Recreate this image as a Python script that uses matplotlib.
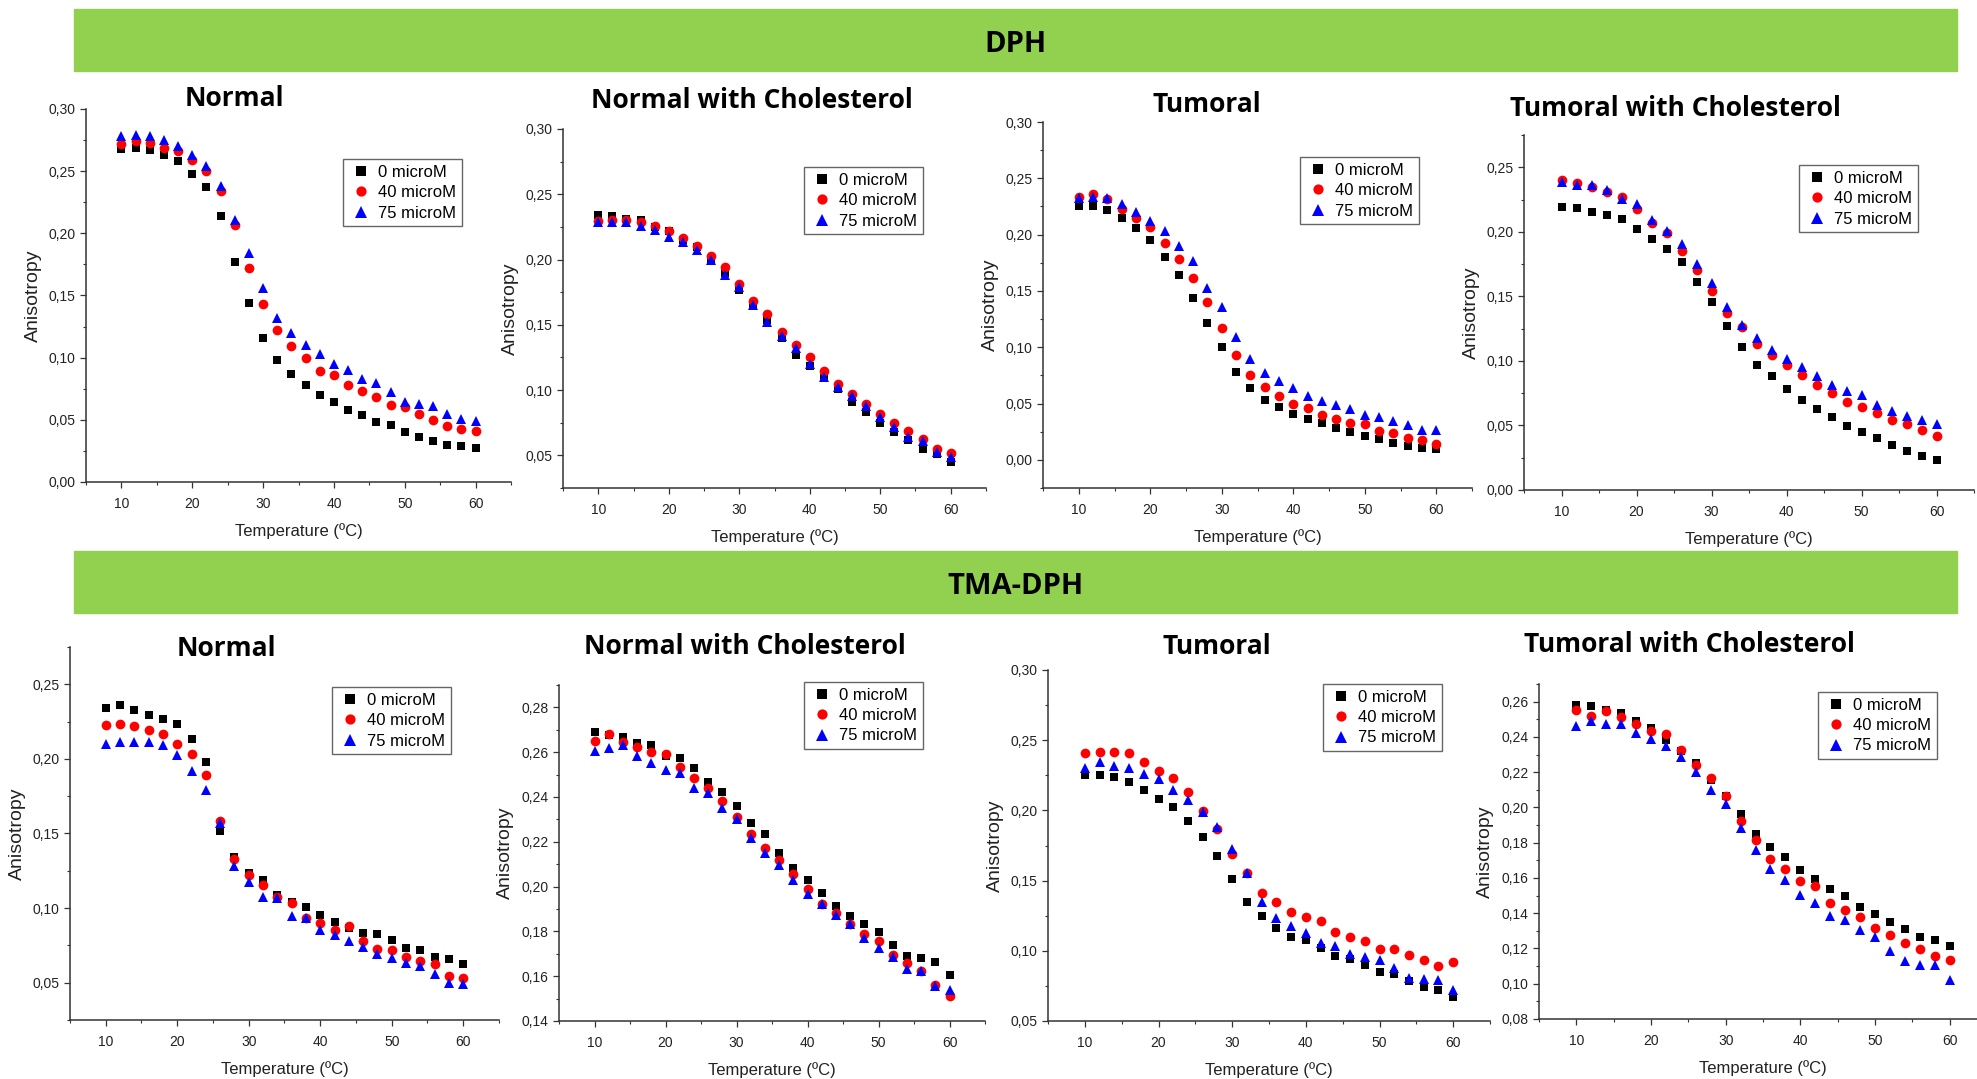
import matplotlib
matplotlib.use("Agg")
import matplotlib.pyplot as plt
from matplotlib.patches import Rectangle
from matplotlib.ticker import MultipleLocator, FuncFormatter

# Steady-state anisotropy vs temperature, DPH and TMA-DPH probes,
# three drug concentrations per membrane model.
TEMPS = [10, 12, 14, 16, 18, 20, 22, 24, 26, 28, 30, 32, 34,
         36, 38, 40, 42, 44, 46, 48, 50, 52, 54, 56, 58, 60]
SERIES_LABELS = ["0 microM", "40 microM", "75 microM"]

# --- DPH ---
dph_normal_0 = [0.268, 0.269, 0.267, 0.263, 0.258, 0.248, 0.237, 0.214, 0.177,
                0.144, 0.116, 0.098, 0.087, 0.078, 0.070, 0.064, 0.058, 0.054,
                0.048, 0.046, 0.040, 0.036, 0.033, 0.030, 0.029, 0.027]
dph_normal_40 = [0.272, 0.274, 0.273, 0.269, 0.266, 0.259, 0.250, 0.234, 0.207,
                 0.172, 0.143, 0.122, 0.109, 0.100, 0.089, 0.086, 0.078, 0.073,
                 0.068, 0.062, 0.060, 0.055, 0.050, 0.045, 0.043, 0.041]
dph_normal_75 = [0.278, 0.279, 0.278, 0.275, 0.270, 0.263, 0.254, 0.238, 0.211,
                 0.184, 0.156, 0.132, 0.120, 0.110, 0.103, 0.095, 0.090, 0.083,
                 0.080, 0.072, 0.064, 0.063, 0.061, 0.055, 0.051, 0.049]

dph_normchol_0 = [0.234, 0.233, 0.231, 0.230, 0.225, 0.2215, 0.215, 0.2095, 0.199,
                  0.190, 0.177, 0.1645, 0.154, 0.140, 0.127, 0.1185, 0.109, 0.101,
                  0.091, 0.083, 0.0745, 0.068, 0.062, 0.0546, 0.051, 0.0446]
dph_normchol_40 = [0.2297, 0.2305, 0.2305, 0.2284, 0.226, 0.222, 0.2167, 0.210, 0.2024,
                   0.194, 0.1814, 0.1683, 0.158, 0.1443, 0.1346, 0.125, 0.1147, 0.1048,
                   0.0968, 0.0894, 0.0817, 0.0745, 0.0689, 0.0628, 0.0546, 0.0515]
dph_normchol_75 = [0.229, 0.2284, 0.2284, 0.226, 0.2228, 0.2172, 0.2133, 0.207, 0.1998,
                   0.1883, 0.1786, 0.1653, 0.152, 0.1418, 0.1326, 0.1198, 0.1098, 0.1021,
                   0.0955, 0.0878, 0.0791, 0.0715, 0.0638, 0.061, 0.0528, 0.049]

dph_tumor_0 = [0.2256, 0.2256, 0.222, 0.2147, 0.206, 0.195, 0.180, 0.1638, 0.1433,
               0.1211, 0.0998, 0.0782, 0.0634, 0.0527, 0.0468, 0.0406, 0.0361, 0.0323,
               0.0284, 0.0243, 0.0216, 0.0181, 0.0148, 0.0127, 0.0104, 0.0092]
dph_tumor_40 = [0.2333, 0.2357, 0.2313, 0.2224, 0.215, 0.2064, 0.1928, 0.1786, 0.1617,
                0.1404, 0.1170, 0.0933, 0.0752, 0.0646, 0.0566, 0.0500, 0.0462, 0.0400,
                0.0364, 0.0329, 0.0314, 0.0258, 0.0234, 0.0198, 0.0175, 0.0139]
dph_tumor_75 = [0.2327, 0.2336, 0.2322, 0.2268, 0.2197, 0.212, 0.2028, 0.1898, 0.1768,
                0.1528, 0.1353, 0.1087, 0.0894, 0.077, 0.0696, 0.0640, 0.0566, 0.0521,
                0.0486, 0.045, 0.0394, 0.0379, 0.0346, 0.0311, 0.0267, 0.0267]

dph_tumchol_0 = [0.2196, 0.2185, 0.2152, 0.2134, 0.2098, 0.2023, 0.1945, 0.1865, 0.1765,
                 0.161, 0.1458, 0.1272, 0.1107, 0.097, 0.088, 0.0782, 0.0697, 0.0624,
                 0.0562, 0.0495, 0.0446, 0.0405, 0.0346, 0.0302, 0.0266, 0.0232]
dph_tumchol_40 = [0.240, 0.2381, 0.235, 0.2307, 0.2268, 0.218, 0.2067, 0.1994, 0.1855,
                  0.1708, 0.1545, 0.1373, 0.1264, 0.1133, 0.1045, 0.0967, 0.0887, 0.081,
                  0.0751, 0.0684, 0.0645, 0.0599, 0.0539, 0.0508, 0.0464, 0.0415]
dph_tumchol_75 = [0.2386, 0.2366, 0.236, 0.2327, 0.2257, 0.2214, 0.209, 0.201, 0.1909,
                  0.1754, 0.16, 0.1419, 0.1282, 0.1174, 0.1084, 0.1017, 0.0955, 0.0885,
                  0.0813, 0.0764, 0.0735, 0.0655, 0.0614, 0.0575, 0.0539, 0.0511]

# --- TMA-DPH ---
tma_normal_0 = [0.2341, 0.2359, 0.2328, 0.2296, 0.227, 0.2232, 0.2133, 0.1977, 0.152,
                0.1341, 0.1238, 0.1189, 0.1088, 0.1044, 0.1006, 0.0952, 0.0909, 0.0865,
                0.0831, 0.0827, 0.0786, 0.0730, 0.0721, 0.0674, 0.0657, 0.0625]
tma_normal_40 = [0.2229, 0.2234, 0.2218, 0.2196, 0.2164, 0.210, 0.203, 0.1891, 0.1587,
                 0.1332, 0.1223, 0.1153, 0.1077, 0.1032, 0.0932, 0.0903, 0.0853, 0.088,
                 0.0782, 0.0726, 0.0719, 0.067, 0.0645, 0.0625, 0.0545, 0.0529]
tma_normal_75 = [0.210, 0.2111, 0.2111, 0.2111, 0.2091, 0.2026, 0.1918, 0.1789, 0.157,
                 0.1283, 0.1178, 0.1077, 0.1068, 0.0947, 0.0932, 0.0853, 0.082, 0.0782,
                 0.0742, 0.0692, 0.0666, 0.0634, 0.0612, 0.0556, 0.050, 0.0489]

tma_normchol_0 = [0.2688, 0.2675, 0.2667, 0.2639, 0.2632, 0.2581, 0.2572, 0.2529, 0.2465,
                  0.2423, 0.2361, 0.2286, 0.2234, 0.2148, 0.2081, 0.2028, 0.1973, 0.1912,
                  0.1869, 0.1833, 0.1799, 0.1740, 0.1690, 0.1681, 0.1664, 0.1604]
tma_normchol_40 = [0.265, 0.2681, 0.2645, 0.2623, 0.2599, 0.259, 0.2533, 0.2487, 0.2438,
                   0.238, 0.2311, 0.2234, 0.2173, 0.2118, 0.2058, 0.1991, 0.1924, 0.188,
                   0.1832, 0.179, 0.1757, 0.1696, 0.1659, 0.1623, 0.1562, 0.151]
tma_normchol_75 = [0.2606, 0.2617, 0.263, 0.2583, 0.2554, 0.252, 0.2505, 0.2438, 0.2416,
                   0.2353, 0.230, 0.2216, 0.2151, 0.2098, 0.2031, 0.1969, 0.1924, 0.1875,
                   0.1832, 0.1771, 0.1726, 0.1686, 0.1632, 0.1622, 0.1555, 0.1537]

tma_tumor_0 = [0.225, 0.2255, 0.2238, 0.2205, 0.2145, 0.2081, 0.2022, 0.1927, 0.1808,
               0.1673, 0.1514, 0.135, 0.125, 0.1162, 0.1098, 0.1077, 0.1018, 0.0963,
               0.0939, 0.0896, 0.0851, 0.0835, 0.0787, 0.0745, 0.0721, 0.0673]
tma_tumor_40 = [0.2411, 0.2418, 0.2418, 0.2406, 0.2347, 0.228, 0.2233, 0.2133, 0.1998,
                0.1868, 0.1687, 0.1552, 0.1409, 0.1348, 0.1279, 0.1243, 0.1212, 0.1136,
                0.1096, 0.1067, 0.1015, 0.101, 0.097, 0.0932, 0.0894, 0.0918]
tma_tumor_75 = [0.2304, 0.2347, 0.2319, 0.230, 0.2259, 0.2221, 0.2145, 0.2074, 0.1991,
                0.1884, 0.1725, 0.1552, 0.135, 0.1236, 0.1179, 0.1129, 0.1053, 0.1037,
                0.0977, 0.0958, 0.0934, 0.0875, 0.0809, 0.0797, 0.0792, 0.0721]

tma_tumchol_0 = [0.2579, 0.2575, 0.2551, 0.2536, 0.2488, 0.245, 0.238, 0.2322, 0.2252,
                 0.2153, 0.2062, 0.1962, 0.1847, 0.1775, 0.172, 0.1644, 0.1593, 0.154,
                 0.1496, 0.1434, 0.1394, 0.1351, 0.1311, 0.1267, 0.1249, 0.1214]
tma_tumchol_40 = [0.2553, 0.2517, 0.2545, 0.2515, 0.2475, 0.2433, 0.2416, 0.2327, 0.224,
                  0.2168, 0.2062, 0.1922, 0.1813, 0.171, 0.1652, 0.1582, 0.1557, 0.146,
                  0.1419, 0.1381, 0.1315, 0.1277, 0.123, 0.1196, 0.1158, 0.1133]
tma_tumchol_75 = [0.2464, 0.2488, 0.2473, 0.2473, 0.2422, 0.2388, 0.2346, 0.2284, 0.2199,
                  0.210, 0.2021, 0.1885, 0.1758, 0.1652, 0.159, 0.1502, 0.1457, 0.1385,
                  0.1362, 0.1305, 0.1264, 0.1188, 0.1127, 0.1108, 0.1108, 0.1021]

W, H = 1977, 1079
GREEN = "#92D050"
TITLE_FONT = ["Open Sans", "DejaVu Sans"]
BODY_FONT = ["Liberation Sans", "DejaVu Sans"]
STYLES = [("s", "#000000", 6.3), ("o", "#ff0000", 7.0), ("^", "#0000ff", 7.6)]

plt.rcParams["font.family"] = BODY_FONT


def px_rect(x0, y_top, x1, y_bot):
    return [x0 / W, 1 - y_bot / H, (x1 - x0) / W, (y_bot - y_top) / H]


# (title, series, ylim, major step, axes box px, title centre px, legend top-left px)
panels = [
    ("Normal", (dph_normal_0, dph_normal_40, dph_normal_75), (0.0, 0.30), 0.05,
     (86, 109, 511, 482), (234, 99), (343, 159)),
    ("Normal with Cholesterol", (dph_normchol_0, dph_normchol_40, dph_normchol_75),
     (0.025, 0.30), 0.05, (563, 129, 986, 488), (752, 101), (804, 167)),
    ("Tumoral", (dph_tumor_0, dph_tumor_40, dph_tumor_75), (-0.025, 0.30), 0.05,
     (1043, 122, 1472, 488), (1207, 104), (1300, 157)),
    ("Tumoral with Cholesterol", (dph_tumchol_0, dph_tumchol_40, dph_tumchol_75),
     (0.0, 0.275), 0.05, (1524, 135, 1974, 490), (1675, 108), (1799, 165)),
    ("Normal", (tma_normal_0, tma_normal_40, tma_normal_75), (0.025, 0.275), 0.05,
     (70, 647, 499, 1020), (226, 648), (332, 687)),
    ("Normal with Cholesterol", (tma_normchol_0, tma_normchol_40, tma_normchol_75),
     (0.14, 0.29), 0.02, (559, 685, 985, 1021), (745, 646), (804, 682)),
    ("Tumoral", (tma_tumor_0, tma_tumor_40, tma_tumor_75), (0.05, 0.30), 0.05,
     (1048, 670, 1490, 1021), (1217, 646), (1323, 684)),
    ("Tumoral with Cholesterol", (tma_tumchol_0, tma_tumchol_40, tma_tumchol_75),
     (0.08, 0.27), 0.02, (1539, 684, 1987, 1019), (1689, 644), (1818, 692)),
]

fig = plt.figure(figsize=(W / 100, H / 100), dpi=100)

# green section banners
for y0, y1, text in [(9, 71, "DPH"), (551, 613, "TMA-DPH")]:
    fig.patches.append(Rectangle((74 / W, 1 - y1 / H), (1957 - 74) / W, (y1 - y0) / H,
                                 transform=fig.transFigure, color=GREEN, zorder=0))
    fig.text(1015 / W, 1 - ((y0 + y1) / 2 + 5) / H, text, ha="center", va="center",
             fontsize=21, fontweight="bold", family=TITLE_FONT)

comma = FuncFormatter(lambda v, _: f"{v:.2f}".replace(".", ","))

for title, series, ylim, step, box, tpos, lpos in panels:
    ax = fig.add_axes(px_rect(*box))
    for ys, (mk, col, ms), lab in zip(series, STYLES, SERIES_LABELS):
        ax.plot(TEMPS, ys, mk, color=col, ms=ms, mew=0, label=lab, clip_on=False)
    ax.set_xlim(5, 65)
    ax.set_ylim(*ylim)
    ax.xaxis.set_major_locator(MultipleLocator(10))
    ax.xaxis.set_minor_locator(MultipleLocator(5))
    ax.yaxis.set_major_locator(MultipleLocator(step))
    ax.yaxis.set_minor_locator(MultipleLocator(step / 2))
    ax.yaxis.set_major_formatter(comma)
    for s in ("top", "right"):
        ax.spines[s].set_visible(False)
    for s in ("left", "bottom"):
        ax.spines[s].set_color("#333333")
        ax.spines[s].set_linewidth(1.1)
    ax.tick_params(which="major", direction="out", length=4.5, width=0.9,
                   color="#333333", labelsize=10, labelcolor="#222222")
    ax.tick_params(which="minor", direction="out", length=2.5, width=0.8, color="#333333")
    ax.tick_params(axis="x", which="major", pad=6)
    ax.tick_params(axis="y", which="major", pad=3)
    ax.set_xlabel("Temperature (ºC)", fontsize=12, labelpad=9, color="#222222")
    ax.set_ylabel("Anisotropy", fontsize=14, labelpad=5, color="#222222")

    fig.text(tpos[0] / W, 1 - tpos[1] / H, title, ha="center", va="center",
             fontsize=19, fontweight="bold", family=TITLE_FONT)

    leg = ax.legend(loc="upper left", bbox_to_anchor=(lpos[0] / W, 1 - lpos[1] / H),
                    bbox_transform=fig.transFigure, fontsize=12, frameon=True,
                    fancybox=False, borderpad=0.35, labelspacing=0.32,
                    handlelength=1.4, handletextpad=0.35, borderaxespad=0.0,
                    markerscale=1.05)
    leg.get_frame().set_edgecolor("#404040")
    leg.get_frame().set_linewidth(1.0)

fig.savefig("out.png", dpi=100)
